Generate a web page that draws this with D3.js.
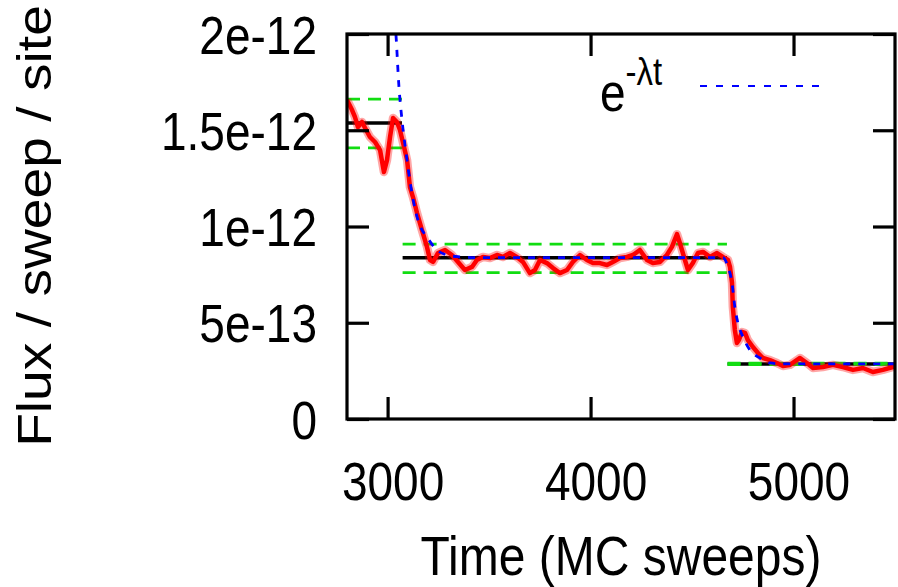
<!DOCTYPE html>
<html>
<head>
<meta charset="utf-8">
<script src="https://cdn.jsdelivr.net/npm/d3@7"></script>
<style>
  html, body { margin: 0; padding: 0; background: #fff; }
  svg text { font-family: "Liberation Sans", Arial, Helvetica, sans-serif; fill: #000; }
</style>
</head>
<body>
<svg id="chart" width="898" height="587"></svg>
<script>
// flux trace (time in MC sweeps, flux in units of 1e-12)
const fluxTime = [2800, 2825, 2839, 2854, 2874, 2889, 2913, 2938, 2963, 2982, 2997, 3012, 3027, 3046, 3061,
    3081, 3096, 3110, 3125, 3145, 3169, 3194, 3209, 3224, 3248, 3283, 3317, 3347, 3381, 3416, 3440, 3470,
    3504, 3539, 3568, 3603, 3637, 3667, 3701, 3726, 3751, 3785, 3815, 3849, 3884, 3913, 3948, 3982, 4012,
    4046, 4081, 4110, 4145, 4179, 4209, 4243, 4278, 4307, 4342, 4376, 4401, 4426, 4440, 4465, 4480, 4504,
    4529, 4554, 4588, 4623, 4652, 4677, 4687, 4697, 4701, 4711, 4721, 4731, 4746, 4761, 4775, 4800, 4825,
    4849, 4884, 4918, 4948, 4982, 5032, 5066, 5096, 5145, 5194, 5243, 5293, 5342, 5391, 5440, 5490, 5500];
const fluxValue = [1.657, 1.605, 1.569, 1.517, 1.543, 1.512, 1.465, 1.439, 1.397, 1.283, 1.345, 1.465, 1.564, 1.543, 1.501,
    1.413, 1.345, 1.205, 1.153, 1.070, 0.982, 0.894, 0.826, 0.816, 0.862, 0.878, 0.852, 0.816, 0.774, 0.790, 0.826, 0.842,
    0.836, 0.852, 0.842, 0.862, 0.842, 0.816, 0.758, 0.774, 0.826, 0.810, 0.784, 0.758, 0.774, 0.816, 0.852, 0.826, 0.810,
    0.810, 0.800, 0.816, 0.836, 0.842, 0.852, 0.878, 0.826, 0.810, 0.816, 0.852, 0.894, 0.960, 0.914, 0.826, 0.774, 0.810,
    0.862, 0.868, 0.842, 0.862, 0.842, 0.826, 0.790, 0.707, 0.582, 0.462, 0.395, 0.410, 0.452, 0.447, 0.410, 0.374, 0.343,
    0.317, 0.306, 0.291, 0.275, 0.281, 0.317, 0.291, 0.265, 0.270, 0.281, 0.270, 0.255, 0.265, 0.244, 0.255, 0.270, 0.275];

// exponential fit (dashed blue)
const fitTime = [3036, 3041, 3056, 3071, 3091, 3115, 3140, 3160, 3194, 3243, 3293, 3357, 3455,
    4652, 4677, 4697, 4711, 4726, 4751, 4785, 4834, 4884, 4948, 5500];
const fitValue = [2.073, 2.0, 1.725, 1.553, 1.382, 1.205, 1.070, 1.003, 0.945, 0.878, 0.852, 0.842, 0.838,
    0.838, 0.790, 0.707, 0.582, 0.499, 0.426, 0.358, 0.317, 0.291, 0.286, 0.286];

// plateau means and error bands
const plateauStart = [2800, 3074, 4675];
const plateauEnd = [3071, 4672, 5500];
const plateauMean = [1.538, 0.838, 0.286];
const plateauUpper = [1.662, 0.908, 0.290];
const plateauLower = [1.408, 0.760, 0.283];

const xTicks = [3000, 4000, 5000];
const yTicks = [0, 0.5, 1, 1.5, 2];
const yTickLabels = ['0', '5e-13', '1e-12', '1.5e-12', '2e-12'];

const svg = d3.select('#chart');
const plot = { left: 347, right: 895, top: 34, bottom: 419 };
const stretch = 'scale(1,1.15)';
const tickLen = 22;

const x = d3.scaleLinear().domain([2800, 5500]).range([plot.left, plot.right]);
const y = d3.scaleLinear().domain([0, 2]).range([plot.bottom, plot.top]);

svg.append('clipPath').attr('id', 'clip')
    .append('rect')
    .attr('x', plot.left).attr('y', plot.top)
    .attr('width', plot.right - plot.left).attr('height', plot.bottom - plot.top);

const data = svg.append('g').attr('clip-path', 'url(#clip)');

// black mean lines
plateauMean.forEach((m, i) => {
    data.append('line')
        .attr('x1', x(plateauStart[i])).attr('x2', x(plateauEnd[i]))
        .attr('y1', y(m)).attr('y2', y(m))
        .attr('stroke', '#000').attr('stroke-width', 3.5);
});

// green dashed bands
[plateauUpper, plateauLower].forEach(band => {
    band.forEach((b, i) => {
        data.append('line')
            .attr('x1', x(plateauStart[i])).attr('x2', x(plateauEnd[i]))
            .attr('y1', y(b)).attr('y2', y(b))
            .attr('stroke', '#11dd11').attr('stroke-width', 2.8)
            .attr('stroke-dasharray', '13,8');
    });
});

// red flux trace (soft halo underneath to mimic the noisy band)
const flux = fluxTime.map((t, i) => [t, fluxValue[i]]);
const fluxLine = d3.line().x(d => x(d[0])).y(d => y(d[1]));
data.append('path')
    .datum(flux)
    .attr('d', fluxLine)
    .attr('fill', 'none')
    .attr('stroke', '#ff0000')
    .attr('stroke-opacity', 0.35)
    .attr('stroke-width', 8.5)
    .attr('stroke-linejoin', 'round');
data.append('path')
    .datum(flux)
    .attr('d', fluxLine)
    .attr('fill', 'none')
    .attr('stroke', '#ff0000')
    .attr('stroke-width', 4.5)
    .attr('stroke-linejoin', 'round');

// blue fit
const fit = fitTime.map((t, i) => [t, fitValue[i]]);
data.append('path')
    .datum(fit)
    .attr('d', d3.line().curve(d3.curveMonotoneX).x(d => x(d[0])).y(d => y(d[1])))
    .attr('fill', 'none')
    .attr('stroke', '#0000ff')
    .attr('stroke-width', 2.8)
    .attr('stroke-dasharray', '7,8');

// ticks on all four sides, pointing inward
const tickAxes = [
    [d3.axisBottom(x).tickValues(xTicks), `translate(0,${plot.bottom})`],
    [d3.axisTop(x).tickValues(xTicks), `translate(0,${plot.top})`],
    [d3.axisLeft(y).tickValues(yTicks), `translate(${plot.left},0)`],
    [d3.axisRight(y).tickValues(yTicks), `translate(${plot.right},0)`]
];
tickAxes.forEach(([axis, tr]) => {
    const g = svg.append('g').attr('transform', tr)
        .call(axis.tickSize(-tickLen).tickSizeOuter(0).tickFormat(''));
    g.select('.domain').remove();
    g.selectAll('line').attr('stroke', '#000').attr('stroke-width', 3.2);
});

// border
svg.append('rect')
    .attr('x', plot.left).attr('y', plot.top)
    .attr('width', plot.right - plot.left).attr('height', plot.bottom - plot.top)
    .attr('fill', 'none').attr('stroke', '#000').attr('stroke-width', 3.2);

// tick labels
const xLab = svg.append('g').attr('transform', `translate(0,${plot.bottom})`)
    .call(d3.axisBottom(x).tickValues(xTicks).tickSize(0).tickFormat(d3.format('d')));
xLab.select('.domain').remove();
xLab.selectAll('text')
    .attr('y', null).attr('dy', null)
    .attr('transform', `translate(5,81) ${stretch}`)
    .attr('font-size', 46);

const yLab = svg.append('g').attr('transform', `translate(${plot.left},0)`)
    .call(d3.axisLeft(y).tickValues(yTicks).tickSize(0).tickFormat((d, i) => yTickLabels[i]));
yLab.select('.domain').remove();
yLab.selectAll('text')
    .attr('x', null).attr('dy', null)
    .attr('transform', `translate(-30,19) ${stretch}`)
    .attr('font-size', 46);

// axis titles
svg.append('g').attr('transform', `translate(621,575) ${stretch}`)
    .append('text')
    .attr('text-anchor', 'middle')
    .attr('font-size', 48)
    .text('Time (MC sweeps)');

svg.append('g').attr('transform', `translate(51,226) ${stretch} rotate(-90)`)
    .append('text')
    .attr('text-anchor', 'middle')
    .attr('font-size', 48)
    .text('Flux / sweep / site');

// legend
const legend = svg.append('g').attr('transform', `translate(600,111) ${stretch}`);
const legText = legend.append('text').attr('font-size', 46);
legText.append('tspan').text('e');
legText.append('tspan').attr('font-size', 33).attr('dy', -23).text('-λt');

svg.append('line')
    .attr('x1', 700).attr('x2', 828)
    .attr('y1', 86).attr('y2', 86)
    .attr('stroke', '#0000ff').attr('stroke-width', 2)
    .attr('stroke-dasharray', '7,9');
</script>
</body>
</html>
